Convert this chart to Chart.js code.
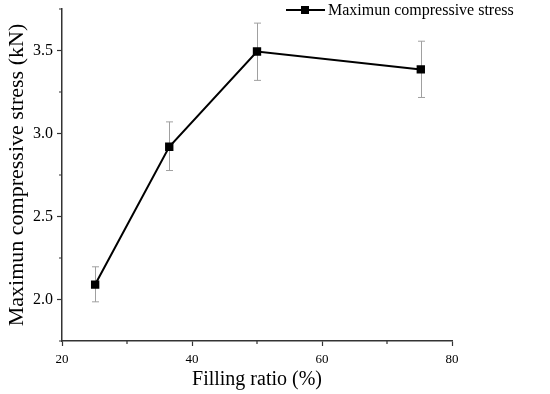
<!DOCTYPE html>
<html><head><meta charset="utf-8">
<script src="https://cdn.jsdelivr.net/npm/chart.js@4/dist/chart.umd.min.js"></script>
<style>html,body{margin:0;padding:0;background:#fff}</style>
</head><body>
<canvas id="c" width="550" height="394"></canvas>
<script>
const fillingRatio = [25.1, 36.5, 50, 75.2];
const maxStress = [2.09, 2.92, 3.494, 3.386];
const errUpper = [2.197, 3.07, 3.665, 3.556];
const errLower = [1.986, 2.777, 3.32, 3.217];
const xTicks = [20, 40, 60, 80];
const xMinorTicks = [30, 50, 70];
const yTicks = [2.0, 2.5, 3.0, 3.5];
const yMinorTicks = [1.75, 2.25, 2.75, 3.25, 3.75];
const seriesName = 'Maximun compressive stress';
const xTitle = 'Filling ratio (%)';
const yTitle = 'Maximun compressive stress (kN)';

const serif = "'Liberation Serif','Times New Roman',serif";
const axisColor = '#333';

const errorBars = {
  id: 'errorBars',
  beforeDatasetsDraw(chart) {
    const ctx = chart.ctx, xs = chart.scales.x, ys = chart.scales.y;
    ctx.save();
    ctx.strokeStyle = '#a0a0a0';
    ctx.lineWidth = 1;
    fillingRatio.forEach((xv, i) => {
      const px = Math.round(xs.getPixelForValue(xv)) + 0.5;
      const t = ys.getPixelForValue(errUpper[i]);
      const b = ys.getPixelForValue(errLower[i]);
      ctx.beginPath();
      ctx.moveTo(px, t); ctx.lineTo(px, b);
      ctx.moveTo(px - 3.5, t); ctx.lineTo(px + 3.5, t);
      ctx.moveTo(px - 3.5, b); ctx.lineTo(px + 3.5, b);
      ctx.stroke();
    });
    ctx.restore();
  }
};

const minorTicks = {
  id: 'minorTicks',
  afterDraw(chart) {
    const ctx = chart.ctx, xs = chart.scales.x, ys = chart.scales.y;
    const ca = chart.chartArea;
    ctx.save();
    ctx.strokeStyle = axisColor;
    ctx.lineWidth = 1.2;
    ctx.beginPath();
    xMinorTicks.forEach(v => {
      const p = xs.getPixelForValue(v);
      ctx.moveTo(p, ca.bottom); ctx.lineTo(p, ca.bottom + 3);
    });
    yMinorTicks.forEach(v => {
      const p = ys.getPixelForValue(v);
      ctx.moveTo(ca.left, p); ctx.lineTo(ca.left - 3, p);
    });
    ctx.stroke();
    ctx.restore();
  }
};

const customLegend = {
  id: 'customLegend',
  afterDraw(chart) {
    const ctx = chart.ctx;
    const ds = chart.data.datasets[0];
    const y = 10;
    ctx.save();
    ctx.strokeStyle = ds.borderColor;
    ctx.lineWidth = 2;
    ctx.beginPath(); ctx.moveTo(286, y); ctx.lineTo(325, y); ctx.stroke();
    ctx.fillStyle = ds.pointBackgroundColor;
    ctx.fillRect(305 - 4, y - 4, 8, 8);
    ctx.fillStyle = '#000';
    ctx.font = "16px " + serif;
    ctx.textBaseline = 'middle';
    ctx.textAlign = 'left';
    ctx.fillText(ds.label, 328, y + 1);
    ctx.restore();
  }
};

new Chart(document.getElementById('c'), {
  type: 'line',
  data: {
    datasets: [{
      label: seriesName,
      data: fillingRatio.map((x, i) => ({ x, y: maxStress[i] })),
      borderColor: '#000',
      backgroundColor: '#000',
      pointBackgroundColor: '#000',
      pointBorderColor: '#000',
      borderWidth: 2,
      pointStyle: 'rect',
      pointRadius: 4.5,
      tension: 0
    }]
  },
  options: {
    responsive: false,
    animation: false,
    layout: { padding: { left: 0, right: 98, top: 9, bottom: 0 } },
    plugins: { legend: { display: false }, tooltip: { enabled: false } },
    scales: {
      x: {
        type: 'linear', min: 20, max: 80,
        afterBuildTicks: s => { s.ticks = xTicks.map(v => ({ value: v })); },
        afterFit: s => { s.height = 53; s.paddingLeft = 0; s.paddingRight = 0; },
        grid: { drawOnChartArea: false, drawTicks: true, tickLength: 5, tickColor: axisColor, tickWidth: 1.2 },
        border: { color: axisColor, width: 1.5 },
        ticks: { color: '#000', font: { family: serif, size: 13 }, padding: 6, maxRotation: 0 },
        title: { display: true, text: xTitle, color: '#000', font: { family: serif, size: 20 }, padding: { top: 0, bottom: 2 } }
      },
      y: {
        type: 'linear', min: 1.75, max: 3.75,
        afterBuildTicks: s => { s.ticks = yTicks.map(v => ({ value: v })); },
        afterFit: s => { s.width = 62; s.paddingTop = 0; s.paddingBottom = 0; },
        grid: { drawOnChartArea: false, drawTicks: true, tickLength: 5, tickColor: axisColor, tickWidth: 1.2 },
        border: { color: axisColor, width: 1.5 },
        ticks: { color: '#000', font: { family: serif, size: 16 }, padding: 4, callback: v => Number(v).toFixed(1) },
        title: { display: true, text: yTitle, color: '#000', font: { family: serif, size: 22 }, padding: { top: 4, bottom: 0 } }
      }
    }
  },
  plugins: [errorBars, minorTicks, customLegend]
});
</script>
</body></html>
